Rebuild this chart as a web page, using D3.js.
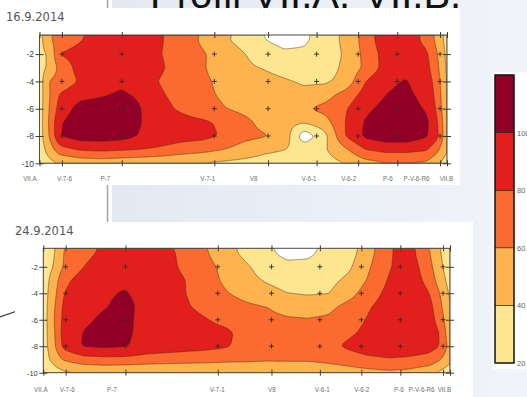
<!DOCTYPE html>
<html><head><meta charset="utf-8">
<script src="https://cdn.jsdelivr.net/npm/d3@7"></script>
<style>html,body{margin:0;padding:0;background:#fff;overflow:hidden}svg{display:block}</style>
</head><body>
<svg id="slide" width="527" height="397"></svg>
<script>
// Stations along the profile VII.A - VII.B (distance from VII.A, m)
const stations = ["VII.A", "V-7-6", "P-7", "V-7-1", "V8", "V-6-1", "V-6-2", "P-6", "P-V-6-R6", "VII.B"];
const stationDist = [0, 55, 202, 429, 561, 680, 782, 878, 983, 1000];
// depths at which the boreholes were sampled
const sampleDepths = [-2, -4, -6, -8];
const depthTicks = [-2, -4, -6, -8, -10];
// contour levels and legend ticks
const levels = [20, 40, 60, 80, 100];
const legendTicks = ["20", "40", "60", "80", "100"];
const bandColors = ["#fee590", "#fdb44e", "#fb6a2f", "#e1201d", "#920027"];

// nodes of the gridded sections
const gridDist = [0, 25, 50, 100, 150, 200, 250, 300, 350, 400, 450, 500, 550, 600, 650, 700, 750, 800, 850, 900, 950, 975, 1000];
const gridDepth = [-0.6, -1, -2, -3, -4, -5, -6, -7, -8, -9, -10];

// section of 16.9.2014 (rows = gridDepth, columns = gridDist)
const section1 = [
  [32, 58, 66, 78, 88, 90, 88, 81, 70, 58, 44, 35, 20, 12, 16, 30, 44, 68, 95, 92, 74, 55, 32],
  [32, 58, 67, 79, 88, 90, 88, 81, 70, 57, 43, 34, 21, 13, 17, 30, 44, 68, 94, 92, 74, 55, 32],
  [34, 43, 81, 88, 92, 94, 90, 80, 70, 62, 52, 41, 33, 24, 24, 30, 42, 66, 88, 95, 83, 62, 34],
  [33, 44, 66, 88, 94, 96, 92, 82, 70, 62, 50, 43, 39, 34, 30, 31, 44, 64, 88, 97, 86, 66, 35],
  [30, 62, 67, 82, 90, 96, 88, 78, 68, 64, 55, 50, 46, 42, 38, 37, 46, 80, 97, 101, 90, 72, 36],
  [30, 60, 82, 94, 98, 103, 97, 82, 72, 64, 58, 52, 48, 46, 44, 52, 68, 88, 100, 104, 94, 74, 38],
  [30, 62, 88, 108, 110, 110, 100, 86, 76, 66, 61, 55, 50, 47, 58, 66, 78, 96, 106, 108, 98, 78, 40],
  [30, 64, 98, 112, 114, 112, 100, 92, 88, 84, 76, 66, 54, 46, 42, 52, 80, 102, 112, 114, 104, 84, 42],
  [30, 62, 100, 110, 110, 108, 98, 92, 88, 86, 78, 66, 62, 54, 6, 34, 80, 104, 112, 112, 102, 86, 44],
  [28, 50, 72, 82, 84, 82, 80, 76, 70, 66, 60, 52, 44, 40, 34, 38, 56, 80, 86, 86, 82, 66, 40],
  [26, 34, 40, 46, 48, 46, 44, 42, 40, 38, 36, 34, 32, 32, 30, 32, 40, 52, 58, 58, 56, 44, 30]
];

// section of 24.9.2014
const section2 = [
  [30, 36, 60, 72, 84, 90, 90, 84, 74, 61, 46, 34, 24, 12, 14, 26, 30, 52, 78, 88, 60, 40, 30],
  [30, 37, 61, 74, 85, 91, 91, 85, 75, 62, 47, 35, 25, 14, 16, 27, 31, 53, 78, 88, 61, 41, 30],
  [30, 40, 62, 80, 92, 94, 92, 86, 76, 66, 54, 42, 32, 26, 26, 30, 36, 58, 78, 92, 66, 44, 30],
  [30, 48, 74, 90, 96, 98, 94, 88, 80, 68, 56, 45, 38, 33, 32, 34, 44, 62, 82, 94, 72, 50, 32],
  [30, 52, 80, 94, 98, 101, 96, 90, 80, 72, 61, 54, 46, 40, 38, 39, 52, 70, 86, 96, 80, 60, 36],
  [30, 56, 84, 95, 99, 104, 96, 92, 82, 74, 68, 63, 60, 54, 52, 55, 66, 78, 90, 98, 86, 66, 38],
  [30, 58, 86, 97, 103, 104, 95, 92, 88, 81, 74, 68, 64, 62, 61, 63, 70, 82, 94, 96, 88, 72, 42],
  [30, 56, 88, 101, 106, 104, 94, 92, 90, 88, 84, 72, 68, 68, 68, 70, 76, 86, 96, 96, 90, 80, 46],
  [30, 54, 86, 102, 104, 102, 92, 90, 88, 86, 82, 72, 70, 70, 70, 74, 84, 94, 96, 94, 88, 80, 52],
  [30, 46, 62, 72, 74, 74, 72, 70, 68, 66, 64, 63, 62, 62, 62, 64, 68, 74, 78, 76, 72, 62, 44],
  [26, 30, 36, 40, 42, 40, 38, 38, 40, 42, 44, 46, 46, 48, 48, 50, 52, 54, 56, 54, 46, 36, 28]
];

const svg = d3.select("#slide");
const SANS = "'Liberation Sans', Arial, sans-serif";

// ---- slide background ----
svg.append("rect").attr("width", 527).attr("height", 397).attr("fill", "#fff");
const defs = svg.append("defs");
const bg = defs.append("linearGradient").attr("id", "bg").attr("x1", 0).attr("x2", 1).attr("y1", 0).attr("y2", 0);
bg.append("stop").attr("offset", 0).attr("stop-color", "#e3e9f3");
bg.append("stop").attr("offset", 1).attr("stop-color", "#f1f4f9");
svg.append("rect").attr("x", 112).attr("y", 0).attr("width", 415).attr("height", 397).attr("fill", "url(#bg)");
svg.append("line").attr("x1", 107.5).attr("x2", 107.5).attr("y1", 0).attr("y2", 397)
  .attr("stroke", "#a6a6a6").attr("stroke-width", 1.5);
svg.append("line").attr("x1", 0).attr("y1", 317).attr("x2", 17).attr("y2", 311)
  .attr("stroke", "#3a3a3a").attr("stroke-width", 1.2);

svg.append("text").attr("x", 150).attr("y", 7.5).attr("font-family", SANS).attr("font-size", 40)
  .attr("fill", "#111").text("Profil VII.A.-VII.B.");

// ---- helpers ----
function sampleGrid(grid, d, z) {
  let i = d3.bisectRight(gridDist, d) - 1;
  i = Math.max(0, Math.min(gridDist.length - 2, i));
  let j = 0;
  while (j < gridDepth.length - 2 && z < gridDepth[j + 1]) j++;
  const tx = Math.max(0, Math.min(1, (d - gridDist[i]) / (gridDist[i + 1] - gridDist[i])));
  const ty = Math.max(0, Math.min(1, (gridDepth[j] - z) / (gridDepth[j] - gridDepth[j + 1])));
  const a = grid[j][i] * (1 - tx) + grid[j][i + 1] * tx;
  const b = grid[j + 1][i] * (1 - tx) + grid[j + 1][i + 1] * tx;
  return a * (1 - ty) + b * ty;
}

function boxBlur(v, nx, ny, r) {
  const tmp = new Float64Array(v.length);
  for (let j = 0; j < ny; j++) for (let i = 0; i < nx; i++) {
    let s = 0, c = 0;
    for (let k = -r; k <= r; k++) { const ii = Math.max(0, Math.min(nx - 1, i + k)); s += v[j * nx + ii]; c++; }
    tmp[j * nx + i] = s / c;
  }
  for (let j = 0; j < ny; j++) for (let i = 0; i < nx; i++) {
    let s = 0, c = 0;
    for (let k = -r; k <= r; k++) { const jj = Math.max(0, Math.min(ny - 1, j + k)); s += tmp[jj * nx + i]; c++; }
    v[j * nx + i] = s / c;
  }
}

function drawSection(cfg) {
  const g = svg.append("g");
  g.append("rect").attr("x", cfg.panel[0]).attr("y", cfg.panel[1])
    .attr("width", cfg.panel[2]).attr("height", cfg.panel[3]).attr("fill", "#fff");
  g.append("text").attr("x", cfg.dateX).attr("y", cfg.dateY)
    .attr("font-family", "'DejaVu Sans', sans-serif").attr("font-size", 11.5)
    .attr("fill", "#555").text(cfg.date);

  const x = d3.scaleLinear().domain([0, 1000]).range([cfg.x0, cfg.x1]);
  const y = d3.scaleLinear().domain([-0.6, -10]).range([cfg.yTop, cfg.yBot]);
  const nx = Math.round((cfg.x1 - cfg.x0) * 2), ny = Math.round((cfg.yBot - cfg.yTop) * 2);
  const values = new Float64Array(nx * ny);
  for (let j = 0; j < ny; j++) {
    const z = -0.6 - (j + 0.5) / ny * 9.4;
    for (let i = 0; i < nx; i++) values[j * nx + i] = sampleGrid(cfg.grid, (i + 0.5) / nx * 1000, z);
  }
  boxBlur(values, nx, ny, 4);
  boxBlur(values, nx, ny, 4);

  const proj = d3.geoTransform({
    point(px, py) { this.stream.point(x(px / nx * 1000), y(-0.6 - py / ny * 9.4)); }
  });
  const path = d3.geoPath(proj);
  const contours = d3.contours().size([nx, ny]).thresholds(levels)(values);

  const clipId = "clip" + cfg.id;
  defs.append("clipPath").attr("id", clipId).append("rect")
    .attr("x", cfg.x0).attr("y", cfg.yTop).attr("width", cfg.x1 - cfg.x0).attr("height", cfg.yBot - cfg.yTop);
  const plot = g.append("g").attr("clip-path", `url(#${clipId})`);
  plot.append("rect").attr("x", cfg.x0).attr("y", cfg.yTop)
    .attr("width", cfg.x1 - cfg.x0).attr("height", cfg.yBot - cfg.yTop).attr("fill", "#fff");
  plot.selectAll("path.band").data(contours).join("path").attr("class", "band")
    .attr("d", path).attr("fill", (d, i) => bandColors[i]);
  plot.selectAll("path.iso").data(contours).join("path").attr("class", "iso")
    .attr("d", path).attr("fill", "none").attr("stroke", "#4a3320")
    .attr("stroke-opacity", 0.75).attr("stroke-width", 0.7);

  // sampling points
  const pts = [];
  stationDist.slice(1, -1).forEach(d => sampleDepths.forEach(z => pts.push([d, z])));
  const cross = g.append("g").attr("stroke", "#3b2a20").attr("stroke-width", 0.9);
  pts.forEach(([d, z]) => {
    const cx = x(d), cy = y(z);
    cross.append("line").attr("x1", cx - 2.5).attr("x2", cx + 2.5).attr("y1", cy).attr("y2", cy);
    cross.append("line").attr("x1", cx).attr("x2", cx).attr("y1", cy - 2.5).attr("y2", cy + 2.5);
  });

  // frame
  g.append("rect").attr("x", cfg.x0).attr("y", cfg.yTop).attr("width", cfg.x1 - cfg.x0)
    .attr("height", cfg.yBot - cfg.yTop).attr("fill", "none").attr("stroke", "#4d4d4d").attr("stroke-width", 1);

  // axes
  const yAxisL = d3.axisLeft(y).tickValues(depthTicks).tickFormat(d => String(d)).tickSize(4).tickPadding(1.5);
  const ya = g.append("g").attr("transform", `translate(${cfg.x0},0)`).call(yAxisL);
  ya.select(".domain").remove();
  ya.selectAll("line").attr("x2", -4).attr("x1", 4).attr("stroke", "#3b3b3b");
  ya.selectAll("text").attr("font-family", SANS).attr("font-size", cfg.yFont).attr("fill", "#3b3b3b");
  const yr = g.append("g").attr("transform", `translate(${cfg.x1},0)`)
    .call(d3.axisRight(y).tickValues(depthTicks).tickFormat("").tickSize(4));
  yr.select(".domain").remove();
  yr.selectAll("line").attr("x1", -4).attr("stroke", "#3b3b3b");

  const xb = g.append("g").attr("transform", `translate(0,${cfg.yBot})`)
    .call(d3.axisBottom(x).tickValues(stationDist).tickFormat((d, i) => stations[i]).tickSize(3).tickPadding(cfg.labelPad));
  xb.select(".domain").remove();
  xb.selectAll("line").attr("y1", -3).attr("stroke", "#3b3b3b");
  xb.selectAll("text").attr("font-family", SANS).attr("font-size", 6.3).attr("fill", "#707070")
    .attr("dx", (d, i) => cfg.labelNudge[i]);
  const xt = g.append("g").attr("transform", `translate(0,${cfg.yTop})`)
    .call(d3.axisTop(x).tickValues(stationDist).tickFormat("").tickSize(3));
  xt.select(".domain").remove();
  xt.selectAll("line").attr("y1", 3).attr("stroke", "#3b3b3b");
}

drawSection({
  id: 1, grid: section1, date: "16.9.2014", dateX: 6, dateY: 20.5,
  panel: [0, 8, 460, 177], x0: 39.5, x1: 447, yTop: 35, yBot: 163.3,
  yFont: 8.5, labelPad: 10, labelNudge: [-10, 2, -17, -7, -15, -8, -10, -10, -24, -1]
});
drawSection({
  id: 2, grid: section2, date: "24.9.2014", dateX: 15, dateY: 235,
  panel: [15, 222, 458, 175], x0: 43.3, x1: 450, yTop: 248.3, yBot: 372.7,
  yFont: 7.5, labelPad: 12, labelNudge: [-3, 1, -14, -1, 0, 2, 0, -2, -22, -6]
});

// ---- colour legend ----
const lg = svg.append("g");
lg.append("rect").attr("x", 493).attr("y", 72).attr("width", 34).attr("height", 297).attr("fill", "#fff");
const ly = d3.scaleLinear().domain([20, 120]).range([363, 75]);
const bands = levels.map((v, i) => [v, i < levels.length - 1 ? levels[i + 1] : 120]);
lg.selectAll("rect.band").data(bands).join("rect").attr("class", "band")
  .attr("x", 495).attr("width", 19).attr("y", d => ly(d[1])).attr("height", d => ly(d[0]) - ly(d[1]))
  .attr("fill", (d, i) => bandColors[i]).attr("stroke", "#2a1a10").attr("stroke-width", 0.6);
lg.append("rect").attr("x", 495).attr("y", ly(120)).attr("width", 19).attr("height", ly(20) - ly(120))
  .attr("fill", "none").attr("stroke", "#111").attr("stroke-width", 1.3);
lg.selectAll("text").data(levels).join("text").attr("x", 517).attr("y", d => ly(d) + 3)
  .attr("font-family", SANS).attr("font-size", 7.5).attr("fill", "#666")
  .text((d, i) => legendTicks[i]);
</script>
</body></html>
